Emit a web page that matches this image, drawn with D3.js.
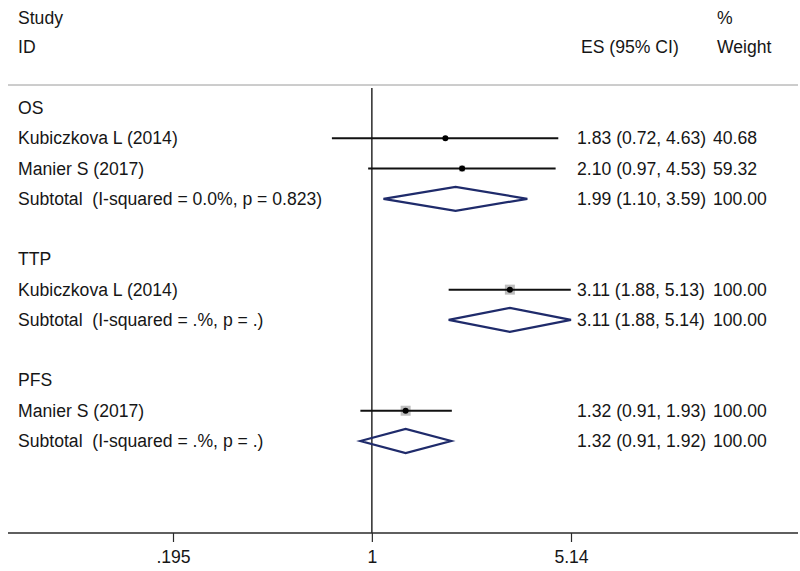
<!DOCTYPE html>
<html lang="en">
<head>
    <meta charset="UTF-8">
    <title>Forest Plot</title>
    <script src="https://d3js.org/d3.v7.min.js"></script>
    <style>
        body {
            margin: 0;
            padding: 0;
            background-color: white;
        }
        svg {
            display: block;
            font-family: 'Liberation Sans', Arial, sans-serif;
        }
        text {
            fill: #161616;
            white-space: pre;
        }
    </style>
</head>
<body>
    <svg width="800" height="571"></svg>

    <script>
        // data
        const groups = ["OS", "TTP", "PFS"];
        const studyNames = ["Kubiczkova L (2014)", "Manier S (2017)", "Kubiczkova L (2014)", "Manier S (2017)"];
        const studyGroup = ["OS", "OS", "TTP", "PFS"];
        const studyES = [1.83, 2.10, 3.11, 1.32];
        const studyLower = [0.72, 0.97, 1.88, 0.91];
        const studyUpper = [4.63, 4.53, 5.13, 1.93];
        const studyWeight = [40.68, 59.32, 100.00, 100.00];

        const subtotalLabels = [
            "Subtotal  (I-squared = 0.0%, p = 0.823)",
            "Subtotal  (I-squared = .%, p = .)",
            "Subtotal  (I-squared = .%, p = .)"
        ];
        const subtotalES = [1.99, 3.11, 1.32];
        const subtotalLower = [1.10, 1.88, 0.91];
        const subtotalUpper = [3.59, 5.14, 1.92];
        const subtotalWeight = [100.00, 100.00, 100.00];

        const tickValues = [0.195, 1, 5.14];
        const tickLabels = [".195", "1", "5.14"];

        // build the list of rows (group header, studies, subtotal, blank)
        const rows = [];
        groups.forEach((g, gi) => {
            rows.push({type: "group", label: g});
            studyNames.forEach((name, i) => {
                if (studyGroup[i] !== g) return;
                rows.push({type: "study", label: name, es: studyES[i], lo: studyLower[i], hi: studyUpper[i], w: studyWeight[i]});
            });
            rows.push({type: "subtotal", label: subtotalLabels[gi], es: subtotalES[gi], lo: subtotalLower[gi], hi: subtotalUpper[gi], w: subtotalWeight[gi]});
            rows.push({type: "blank"});
        });
        rows.forEach((r, i) => r.idx = i);

        const svg = d3.select("svg");
        const fmt = d3.format(".2f");

        const x = d3.scaleLog().domain([0.195, 5.14]).range([173, 571]);
        const y = d3.scaleLinear().domain([0, 11]).range([108, 441]);
        const box = d3.scaleLinear().domain([0, 100]).range([0, 10]);

        const axisY = 533;
        const fontSize = 17.6;

        // column headers
        const header = svg.append("g").attr("font-size", fontSize).attr("dominant-baseline", "central");
        header.append("text").attr("x", 18).attr("y", 18).text("Study");
        header.append("text").attr("x", 18).attr("y", 47).text("ID");
        header.append("text").attr("x", 581).attr("y", 47).text("ES (95% CI)");
        header.append("text").attr("x", 717).attr("y", 18).text("%");
        header.append("text").attr("x", 717).attr("y", 47).text("Weight");

        svg.append("line")
            .attr("x1", 8).attr("x2", 798)
            .attr("y1", 85).attr("y2", 85)
            .attr("stroke", "#9a9a9a")
            .attr("stroke-width", 1);

        // null line at 1
        svg.append("line")
            .attr("x1", x(1)).attr("x2", x(1))
            .attr("y1", 88).attr("y2", axisY)
            .attr("stroke", "#2a2a2a")
            .attr("stroke-width", 1.5);

        // row labels and numbers
        const labels = svg.append("g").attr("font-size", fontSize).attr("dominant-baseline", "central");
        labels.selectAll(".rowlabel")
            .data(rows.filter(r => r.type !== "blank"))
            .enter().append("text")
            .attr("class", "rowlabel")
            .attr("x", 18)
            .attr("y", d => y(d.idx))
            .text(d => d.label);

        const est = rows.filter(r => r.type === "study" || r.type === "subtotal");
        labels.selectAll(".estext")
            .data(est)
            .enter().append("text")
            .attr("class", "estext")
            .attr("x", 577)
            .attr("y", d => y(d.idx))
            .text(d => `${fmt(d.es)} (${fmt(d.lo)}, ${fmt(d.hi)})`);
        labels.selectAll(".wtext")
            .data(est)
            .enter().append("text")
            .attr("class", "wtext")
            .attr("x", 713)
            .attr("y", d => y(d.idx))
            .text(d => fmt(d.w));

        // study estimates
        const studies = rows.filter(r => r.type === "study");
        svg.selectAll(".wbox")
            .data(studies)
            .enter().append("rect")
            .attr("class", "wbox")
            .attr("x", d => x(d.es) - box(d.w) / 2)
            .attr("y", d => y(d.idx) - box(d.w) / 2)
            .attr("width", d => box(d.w))
            .attr("height", d => box(d.w))
            .attr("fill", "#bdbdbd");
        svg.selectAll(".ci")
            .data(studies)
            .enter().append("line")
            .attr("class", "ci")
            .attr("x1", d => x(d.lo)).attr("x2", d => x(d.hi))
            .attr("y1", d => y(d.idx)).attr("y2", d => y(d.idx))
            .attr("stroke", "#111")
            .attr("stroke-width", 2);
        svg.selectAll(".dot")
            .data(studies)
            .enter().append("circle")
            .attr("class", "dot")
            .attr("cx", d => x(d.es))
            .attr("cy", d => y(d.idx))
            .attr("r", 3)
            .attr("fill", "#000");

        // subtotal diamonds
        svg.selectAll(".diamond")
            .data(rows.filter(r => r.type === "subtotal"))
            .enter().append("path")
            .attr("class", "diamond")
            .attr("d", d => {
                const cy = y(d.idx);
                return `M${x(d.lo)},${cy}L${x(d.es)},${cy - 12}L${x(d.hi)},${cy}L${x(d.es)},${cy + 12}Z`;
            })
            .attr("fill", "none")
            .attr("stroke", "#1f2b6b")
            .attr("stroke-width", 2.2);

        // x axis
        svg.append("line")
            .attr("x1", 8).attr("x2", 798)
            .attr("y1", axisY).attr("y2", axisY)
            .attr("stroke", "#2a2a2a")
            .attr("stroke-width", 1.5);

        const axis = svg.append("g")
            .attr("transform", `translate(0,${axisY})`)
            .call(d3.axisBottom(x)
                .tickValues(tickValues)
                .tickFormat((d, i) => tickLabels[i])
                .tickSize(9)
                .tickSizeOuter(0)
                .tickPadding(9));
        axis.select(".domain").remove();
        axis.selectAll(".tick line").attr("stroke", "#2a2a2a").attr("stroke-width", 1.2);
        axis.selectAll(".tick text")
            .attr("font-size", fontSize)
            .attr("font-family", "'Liberation Sans', Arial, sans-serif")
            .attr("fill", "#161616");
    </script>
</body>
</html>
